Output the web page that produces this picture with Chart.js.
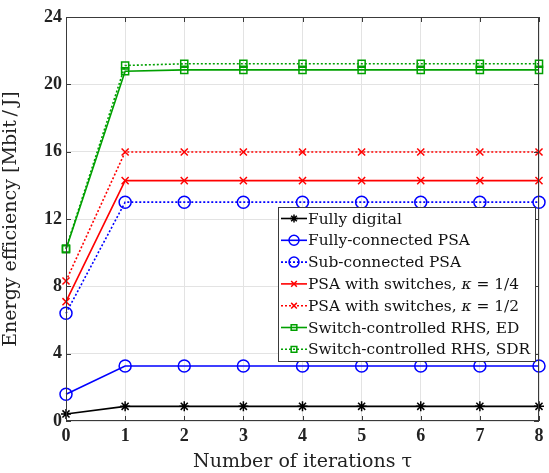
<!DOCTYPE html>
<html>
<head>
<meta charset="utf-8">
<script src="https://cdn.jsdelivr.net/npm/chart.js@4.4.0/dist/chart.umd.min.js"></script>
<style>
  html, body { margin: 0; padding: 0; background: #fff; }
  #wrap { width: 549px; height: 473px; position: relative; }
</style>
</head>
<body>
<div id="wrap"><canvas id="chart" width="549" height="473"></canvas></div>
<script>
// Data
const iterations = [0, 1, 2, 3, 4, 5, 6, 7, 8];
const yTicks = [0, 4, 8, 12, 16, 20, 24];

const fullyDigital   = [0.42, 0.87, 0.87, 0.87, 0.87, 0.87, 0.87, 0.87, 0.87];
const fullyConnected = [1.59, 3.27, 3.27, 3.27, 3.27, 3.27, 3.27, 3.27, 3.27];
const subConnected   = [6.4, 13.0, 13.0, 13.0, 13.0, 13.0, 13.0, 13.0, 13.0];
const switchQuarter  = [7.09, 14.28, 14.28, 14.28, 14.28, 14.28, 14.28, 14.28, 14.28];
const switchHalf     = [8.32, 15.98, 15.98, 15.98, 15.98, 15.98, 15.98, 15.98, 15.98];
const rhsED          = [10.2, 20.78, 20.86, 20.86, 20.86, 20.86, 20.86, 20.86, 20.86];
const rhsSDR         = [10.25, 21.12, 21.22, 21.22, 21.22, 21.22, 21.22, 21.22, 21.22];

const TEXT_FONT = "'DejaVu Serif', 'Liberation Serif', serif";
const TICK_FONT = "'Liberation Serif', 'DejaVu Serif', serif";

function series(label, data, color, style, dashed, radius) {
  return {
    label: label,
    data: data.map((v, i) => ({ x: iterations[i], y: v })),
    borderColor: color,
    backgroundColor: "rgba(0,0,0,0)",
    pointBorderColor: color,
    pointBackgroundColor: "rgba(0,0,0,0)",
    borderWidth: 1.6,
    borderDash: dashed ? [2, 2] : [],
    pointStyle: style,
    pointRadius: radius,
    pointBorderWidth: 1.5,
    fill: false,
    tension: 0,
    clip: false
  };
}

const datasets = [
  series("Fully digital", fullyDigital, "#000000", "star", false, 5),
  series("Fully-connected PSA", fullyConnected, "#0000ff", "circle", false, 6),
  series("Sub-connected PSA", subConnected, "#0000ff", "circle", true, 6),
  series("PSA with switches, |κ| = 1/4", switchQuarter, "#ff0000", "crossRot", false, 5),
  series("PSA with switches, |κ| = 1/2", switchHalf, "#ff0000", "crossRot", true, 5),
  series("Switch-controlled RHS, ED", rhsED, "#00a000", "rect", false, 5),
  series("Switch-controlled RHS, SDR", rhsSDR, "#00a000", "rect", true, 5)
];

// Axis box with inward ticks, like the original plot frame
const framePlugin = {
  id: "frame",
  afterDatasetsDraw(chart) {
    const { ctx, chartArea: a, scales } = chart;
    ctx.save();
    ctx.strokeStyle = "#3a3a3a";
    ctx.lineWidth = 1;
    ctx.strokeRect(a.left + 0.5, a.top + 0.5, a.right - a.left - 1, a.bottom - a.top - 1);
    ctx.beginPath();
    iterations.forEach(v => {
      const x = Math.round(scales.x.getPixelForValue(v)) + 0.5;
      ctx.moveTo(x, a.bottom); ctx.lineTo(x, a.bottom - 5);
      ctx.moveTo(x, a.top); ctx.lineTo(x, a.top + 5);
    });
    yTicks.forEach(v => {
      const y = Math.round(scales.y.getPixelForValue(v)) + 0.5;
      ctx.moveTo(a.left, y); ctx.lineTo(a.left + 5, y);
      ctx.moveTo(a.right, y); ctx.lineTo(a.right - 5, y);
    });
    ctx.stroke();
    ctx.restore();
  }
};

// Legend box drawn inside the plot area
const legendPlugin = {
  id: "innerLegend",
  afterDraw(chart) {
    const { ctx } = chart;
    const left = 278, top = 207, width = 257, height = 154, rowH = 21.8;
    ctx.save();
    ctx.fillStyle = "#ffffff";
    ctx.fillRect(left, top, width, height);
    ctx.strokeStyle = "#3a3a3a";
    ctx.lineWidth = 1;
    ctx.strokeRect(left + 0.5, top + 0.5, width, height);
    chart.data.datasets.forEach((ds, i) => {
      const y = top + 11.5 + i * rowH;
      ctx.strokeStyle = ds.borderColor;
      ctx.lineWidth = 1.6;
      ctx.setLineDash(ds.borderDash);
      ctx.beginPath();
      ctx.moveTo(left + 3, y);
      ctx.lineTo(left + 29, y);
      ctx.stroke();
      ctx.setLineDash([]);
      ctx.lineWidth = 1.5;
      ctx.fillStyle = "rgba(0,0,0,0)";
      Chart.helpers.drawPoint(ctx, {
        pointStyle: ds.pointStyle,
        radius: ds.pointStyle === "circle" ? 5 : 4,
        rotation: 0,
        borderWidth: 1.5
      }, left + 16, y);
      // label text, with italic kappa
      ctx.fillStyle = "#111";
      ctx.textBaseline = "middle";
      let x = left + 30;
      ds.label.split("|").forEach((part, k) => {
        ctx.font = (k === 1 ? "italic " : "") + "15.4px " + TEXT_FONT;
        ctx.fillText(part, x, y + 1);
        x += ctx.measureText(part).width;
      });
    });
    ctx.restore();
  }
};

new Chart(document.getElementById("chart"), {
  type: "line",
  data: { datasets: datasets },
  plugins: [framePlugin, legendPlugin],
  options: {
    responsive: false,
    animation: false,
    layout: { padding: { top: 17, right: 10, left: 0, bottom: 0 } },
    plugins: { legend: { display: false }, tooltip: { enabled: false } },
    scales: {
      x: {
        type: "linear",
        min: 0, max: 8,
        afterFit(s) { s.height = 52; },
        afterBuildTicks(s) { s.ticks = iterations.map(v => ({ value: v })); },
        grid: { color: "#e3e3e3", drawTicks: false },
        border: { display: false },
        ticks: { color: "#222", padding: 5, font: { family: TICK_FONT, size: 18, weight: "bold" } },
        title: {
          display: true, text: "Number of iterations τ", color: "#222",
          padding: { top: -2, bottom: 0 },
          font: { family: TEXT_FONT, size: 19 }
        }
      },
      y: {
        min: 0, max: 24,
        afterFit(s) { s.width = 66; },
        afterBuildTicks(s) { s.ticks = yTicks.map(v => ({ value: v })); },
        grid: { color: "#e3e3e3", drawTicks: false },
        border: { display: false },
        ticks: { color: "#222", padding: 4, font: { family: TICK_FONT, size: 18, weight: "bold" } },
        title: {
          display: true, text: "Energy efficiency [Mbit\u2009/\u2009J]", color: "#222",
          padding: { top: 0, bottom: 2 },
          font: { family: TEXT_FONT, size: 19 }
        }
      }
    }
  }
});
</script>
</body>
</html>
